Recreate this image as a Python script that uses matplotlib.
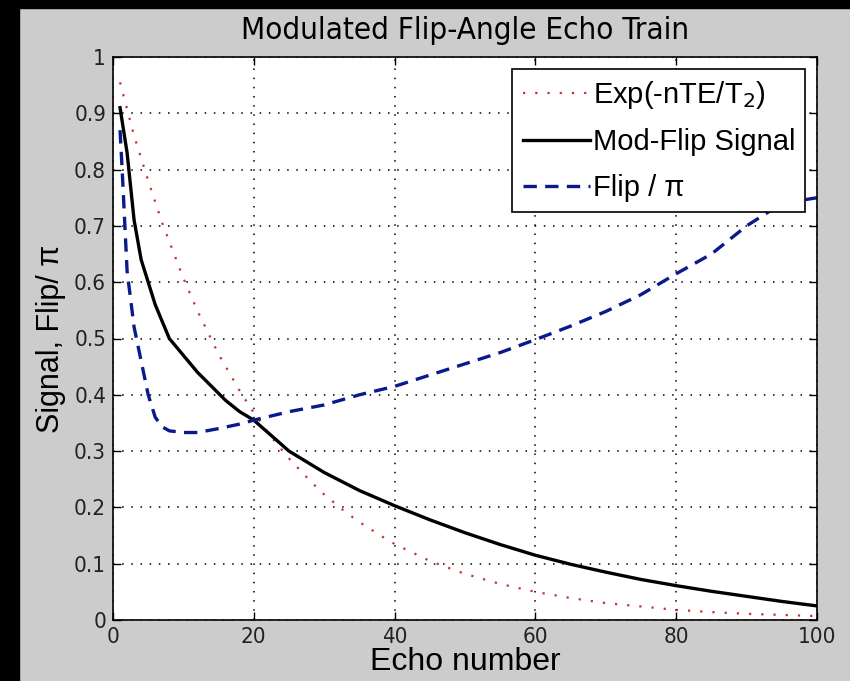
import matplotlib
matplotlib.use("Agg")
import matplotlib.pyplot as plt
from matplotlib.patches import Rectangle

# values
exp_n = [1, 3, 5, 7, 10, 12, 15, 18, 20, 23, 25, 28, 30, 33, 35, 38, 40, 43, 45,
         48, 50, 55, 60, 65, 70, 75, 80, 85, 90, 95, 100]
exp_v = [0.955, 0.86, 0.78, 0.705, 0.607, 0.549, 0.472, 0.407, 0.368, 0.317,
         0.287, 0.247, 0.223, 0.192, 0.174, 0.150, 0.135, 0.117, 0.105,
         0.091, 0.082, 0.064, 0.050, 0.039, 0.030, 0.024, 0.018, 0.014,
         0.011, 0.009, 0.007]

sig_n = [1, 2, 3, 4, 5, 6, 7, 8, 10, 12, 14, 16, 18, 20, 25, 30, 35, 40, 45,
         50, 55, 60, 65, 70, 75, 80, 85, 90, 95, 100]
sig_v = [0.91, 0.83, 0.71, 0.64, 0.60, 0.56, 0.53, 0.50, 0.47, 0.44, 0.415,
         0.39, 0.37, 0.355, 0.30, 0.262, 0.23, 0.203, 0.178, 0.155, 0.134,
         0.115, 0.099, 0.085, 0.072, 0.061, 0.051, 0.042, 0.033, 0.025]

flip_n = [1, 1.3, 2, 3, 4, 5, 6, 7, 8, 10, 12, 15, 18, 20, 25, 30, 35, 40, 45,
          50, 55, 60, 65, 70, 75, 80, 85, 90, 95, 100]
flip_v = [0.87, 0.80, 0.62, 0.52, 0.46, 0.40, 0.36, 0.343, 0.336, 0.333,
          0.333, 0.34, 0.348, 0.355, 0.37, 0.382, 0.40, 0.415, 0.435, 0.455,
          0.475, 0.498, 0.522, 0.548, 0.578, 0.615, 0.65, 0.70, 0.74, 0.75]

xticks = [0, 20, 40, 60, 80, 100]
yticks = [0, 0.1, 0.2, 0.3, 0.4, 0.5, 0.6, 0.7, 0.8, 0.9, 1]
ytick_labels = ['0', '0.1', '0.2', '0.3', '0.4', '0.5', '0.6', '0.7', '0.8', '0.9', '1']

narrow = ['DejaVu Sans']
plain = ['Liberation Sans', 'DejaVu Sans']

fig = plt.figure(figsize=(8.5, 6.81), dpi=100, facecolor='#cccccc')
# black frame strips on the left and top of the screenshot
fig.patches.append(Rectangle((0, 0), 19 / 850, 1, transform=fig.transFigure,
                             color='black', zorder=0))
fig.patches.append(Rectangle((0, 1 - 8 / 681), 1, 8 / 681, transform=fig.transFigure,
                             color='black', zorder=0))

ax = fig.add_axes([113 / 850, 1 - 620 / 681, 704 / 850, 563 / 681])
ax.set_facecolor('white')

ax.plot(exp_n, exp_v, linestyle=(0, (1, 4.5)), color='#c03535', linewidth=1.6,
        label='Exp(-nTE/T$_2$)')
ax.plot(sig_n, sig_v, '-', color='black', linewidth=2.4, label='Mod-Flip Signal')
ax.plot(flip_n, flip_v, linestyle=(0, (4, 2.5)), color='#0a1a8c', linewidth=2.4,
        label='Flip / π')

ax.set_xlim(0, 100)
ax.set_ylim(0, 1)
ax.set_xticks(xticks)
ax.set_yticks(yticks)
ax.set_yticklabels(ytick_labels)
ax.tick_params(direction='in', top=True, right=True, length=6, width=1,
               labelsize=16, pad=5)
for lbl in ax.get_xticklabels() + ax.get_yticklabels():
    lbl.set_family(narrow)
    lbl.set_stretch('condensed')
    lbl.set_color('#222222')
ax.grid(True, color='black', linestyle=(0, (1, 5)), linewidth=1.1)
for sp in ax.spines.values():
    sp.set_linewidth(1.2)

ax.set_title('Modulated Flip-Angle Echo Train', fontsize=22.5, family=narrow,
             stretch='condensed', pad=13)
ax.set_xlabel('Echo number', fontsize=23, family=plain, labelpad=0)
ax.set_ylabel('Signal, Flip/ π', fontsize=22, family=plain, labelpad=6)

leg = ax.legend(loc='upper right', prop={'family': plain, 'size': 21},
                fancybox=False, edgecolor='black', framealpha=1,
                handlelength=2.3, handletextpad=0.1, borderaxespad=0.4,
                borderpad=0.35, labelspacing=0.6)
leg.get_frame().set_linewidth(1.2)

fig.savefig('out.png', dpi=100, facecolor=fig.get_facecolor())
